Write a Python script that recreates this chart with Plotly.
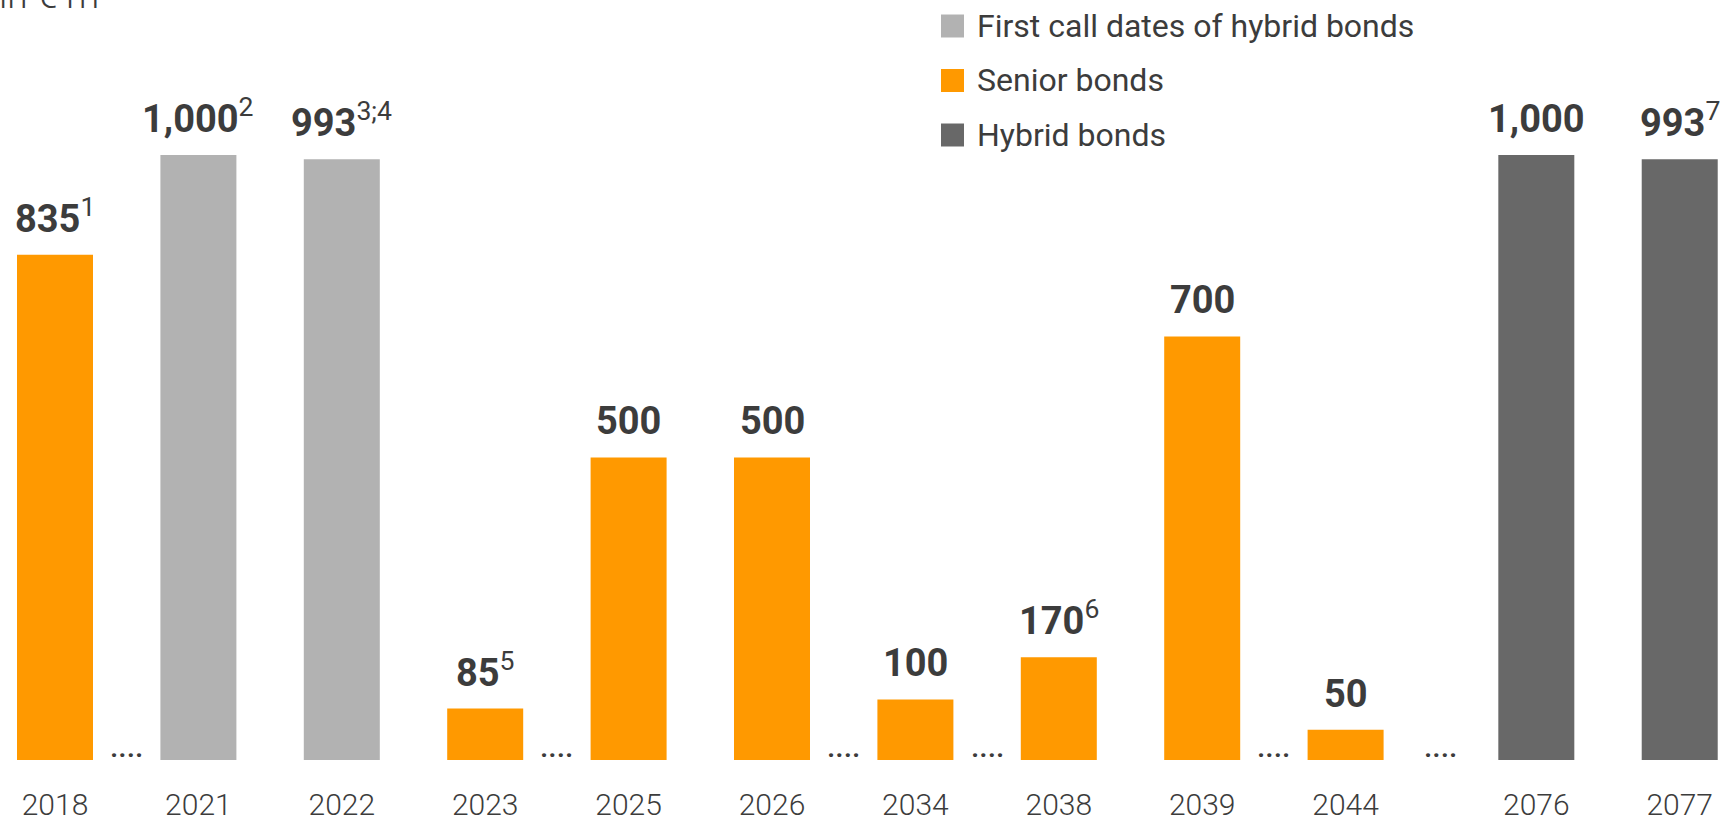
import plotly.graph_objects as go

# Maturity profile (in € m)
years = [2018, 2021, 2022, 2023, 2025, 2026, 2034, 2038, 2039, 2044, 2076, 2077]
values = [835, 1000, 993, 85, 500, 500, 100, 170, 700, 50, 1000, 993]
series = [
    "Senior bonds",
    "First call dates of hybrid bonds",
    "First call dates of hybrid bonds",
    "Senior bonds",
    "Senior bonds",
    "Senior bonds",
    "Senior bonds",
    "Senior bonds",
    "Senior bonds",
    "Senior bonds",
    "Hybrid bonds",
    "Hybrid bonds",
]
footnotes = ["1", "2", "3;4", "5", "", "", "", "6", "", "", "", "7"]

legend_order = ["First call dates of hybrid bonds", "Senior bonds", "Hybrid bonds"]
colors = {
    "First call dates of hybrid bonds": "#B2B2B2",
    "Senior bonds": "#FF9900",
    "Hybrid bonds": "#686868",
}

TEXT = "#3C3C3C"
FONT = "Roboto"
W, H = 1722, 822
MB = 62                 # bottom margin (room for year labels)
PLOT_H = H - MB
GROUP_GAP = 0.33        # extra space before the long-dated hybrid maturities
BAR_W = 0.53

# slot positions along the x axis
pos = []
offset = 0.0
for i, s in enumerate(series):
    if s == "Hybrid bonds" and (i == 0 or series[i - 1] != "Hybrid bonds"):
        offset += GROUP_GAP
    pos.append(i + offset)

fig = go.Figure()
for name in legend_order:
    idx = [i for i, s in enumerate(series) if s == name]
    fig.add_trace(go.Bar(
        x=[pos[i] for i in idx],
        y=[values[i] for i in idx],
        width=BAR_W,
        marker=dict(color=colors[name], line=dict(width=0)),
        name=name,
        showlegend=False,
        hoverinfo="skip",
    ))

annotations = []
# value labels with footnote markers
for p, v, fn in zip(pos, values, footnotes):
    txt = f"<b>{v:,}</b>"
    if fn:
        txt += f"<sup>{fn}</sup>"
    annotations.append(dict(
        x=p, y=v, xref="x", yref="y", text=txt, showarrow=False,
        xanchor="center", yanchor="bottom", yshift=12,
        font=dict(family=FONT, size=38, color=TEXT),
    ))

# ellipsis marks between non-consecutive years
for i in range(len(years) - 1):
    if years[i + 1] - years[i] > 1:
        annotations.append(dict(
            x=(pos[i] + pos[i + 1]) / 2, y=0, xref="x", yref="y",
            text="....", showarrow=False, xanchor="center", yanchor="bottom",
            yshift=-6,
            font=dict(family=FONT, size=30, color=TEXT, weight=500),
        ))

# unit label
annotations.append(dict(
    x=0, y=1, xref="paper", yref="paper", text="in € m", showarrow=False,
    xanchor="left", yanchor="bottom", xshift=-3, yshift=-19,
    font=dict(family=FONT, size=37, color=TEXT, weight=300),
))

# legend
shapes = []
row0, row_gap, sq = 26, 54.5, 23
sq_x0 = 941
for k, name in enumerate(legend_order):
    cy = row0 + k * row_gap
    shapes.append(dict(
        type="rect", xref="paper", yref="paper",
        x0=sq_x0 / W, x1=(sq_x0 + sq) / W,
        y0=1 - (cy + sq / 2) / PLOT_H, y1=1 - (cy - sq / 2) / PLOT_H,
        fillcolor=colors[name], line=dict(width=0),
    ))
    annotations.append(dict(
        x=975 / W, y=1 - cy / PLOT_H, xref="paper", yref="paper",
        text=name, showarrow=False, xanchor="left", yanchor="middle",
        font=dict(family=FONT, size=32, color=TEXT),
    ))

first_c = 55
px_per_slot = 143.4
x_min = -first_c / px_per_slot
x_max = x_min + W / px_per_slot

fig.update_layout(
    width=W, height=H,
    margin=dict(l=0, r=0, t=0, b=MB),
    paper_bgcolor="white", plot_bgcolor="white",
    barmode="overlay",
    annotations=annotations,
    shapes=shapes,
    xaxis=dict(
        range=[x_min, x_max], automargin=False,
        tickmode="array", tickvals=pos, ticktext=[str(y) for y in years],
        tickfont=dict(family=FONT, size=30, color=TEXT, weight=300),
        showgrid=False, zeroline=False, showline=False, ticks="",
        ticklabelstandoff=24,
    ),
    yaxis=dict(range=[0, 1256], visible=False, showgrid=False,
               zeroline=False, automargin=False),
)

fig.write_html("out.html")
